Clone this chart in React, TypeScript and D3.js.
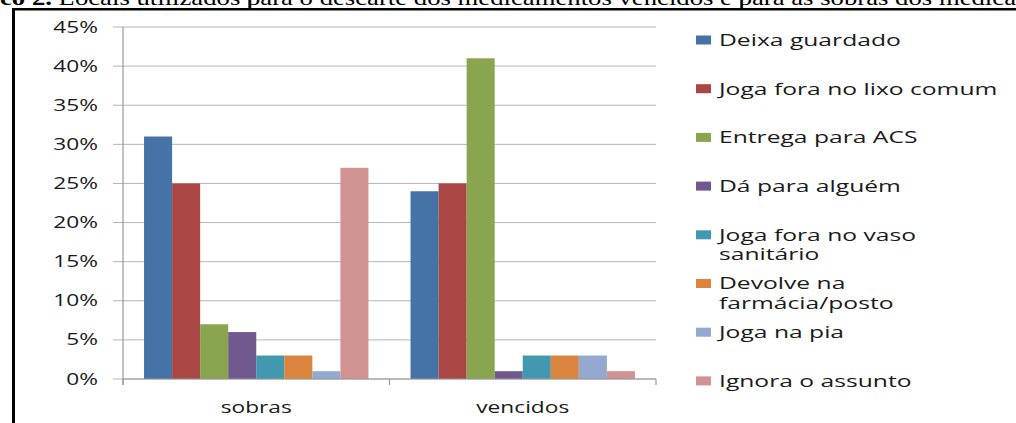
import React from "react";
import * as d3 from "d3";

const categories = ["sobras", "vencidos"];
const seriesNames = [
  "Deixa guardado",
  "Joga fora no lixo comum",
  "Entrega para ACS",
  "Dá para alguém",
  "Joga fora no vaso sanitário",
  "Devolve na farmácia/posto",
  "Joga na pia",
  "Ignora o assunto",
];
const legendLines = [
  ["Deixa guardado"],
  ["Joga fora no lixo comum"],
  ["Entrega para ACS"],
  ["Dá para alguém"],
  ["Joga fora no vaso", "sanitário"],
  ["Devolve na", "farmácia/posto"],
  ["Joga na pia"],
  ["Ignora o assunto"],
];
// values per series: [sobras, vencidos] in %
const deixaGuardado = [31, 24];
const jogaLixo = [25, 25];
const entregaACS = [7, 41];
const daAlguem = [6, 1];
const jogaVaso = [3, 3];
const devolveFarmacia = [3, 3];
const jogaPia = [1, 3];
const ignora = [27, 1];
const seriesValues = [deixaGuardado, jogaLixo, entregaACS, daAlguem, jogaVaso, devolveFarmacia, jogaPia, ignora];
const colors = ["#4572A7", "#AA4643", "#89A54E", "#71588F", "#4198AF", "#DB843D", "#93A9CF", "#D19392"];
const yTicks = [0, 5, 10, 15, 20, 25, 30, 35, 40, 45];
const captionBold = "co 2.";
const captionRest = " Locais utilizados para o descarte dos medicamentos vencidos e para as sobras dos medica";

const W = 1016;
const H = 423;
const plotLeft = 123;
const plotRight = 656;
const plotTop = 27;
const plotBottom = 379;
const SX = 1.42;
const FONT = "'Open Sans', sans-serif";
const TXT = "#1a1a1a";

export default function App() {
  const y = d3.scaleLinear().domain([0, 45]).range([plotBottom, plotTop]);
  const x0 = d3.scaleBand().domain(categories).range([plotLeft, plotRight]).paddingInner(0).paddingOuter(0);
  const inner = d3
    .scaleBand()
    .domain(seriesNames)
    .range([0, x0.bandwidth()])
    .paddingOuter(0.75)
    .paddingInner(0);
  const legendY = (i: number) => 40 + i * 48.7;

  return (
    <svg width={W} height={H} style={{ position: "absolute", left: 0, top: 0, background: "#fff" }}>
      {/* caption */}
      <text
        x={0}
        y={5}
        fontFamily="'Liberation Serif', 'Times New Roman', serif"
        fontSize={21}
        fill="#000"
        textLength={1016}
        lengthAdjust="spacingAndGlyphs"
      >
        <tspan fontWeight="bold">{captionBold}</tspan>
        <tspan>{captionRest}</tspan>
      </text>
      <line x1={249} x2={249} y1={0} y2={9} stroke="#000" strokeWidth={1.2} />
      <line x1={741} x2={741} y1={0} y2={9} stroke="#000" strokeWidth={1.2} />
      {/* frame */}
      <rect x={12} y={8} width={W - 12} height={2.5} fill="#000" />
      <rect x={12} y={8} width={3} height={H - 8} fill="#000" />

      {/* gridlines */}
      {yTicks.map((t) => (
        <line key={"g" + t} x1={plotLeft - 10} x2={plotRight} y1={y(t)} y2={y(t)} stroke="#B5B5B5" strokeWidth={1} />
      ))}
      {/* y labels */}
      {yTicks.map((t) => (
        <g key={"yl" + t} transform={`translate(98,${y(t)}) scale(${SX},1)`}>
          <text x={0} y={0} dy="0.35em" textAnchor="end" fontFamily={FONT} fontSize={16} fill={TXT}>
            {t + "%"}
          </text>
        </g>
      ))}

      {/* bars */}
      {seriesValues.map((vals, si) =>
        vals.map((v, ci) => (
          <rect
            key={`b${si}-${ci}`}
            x={(x0(categories[ci]) as number) + (inner(seriesNames[si]) as number)}
            y={y(v)}
            width={inner.bandwidth()}
            height={plotBottom - y(v)}
            fill={colors[si]}
          />
        ))
      )}

      {/* axes */}
      <line x1={plotLeft} x2={plotLeft} y1={plotTop} y2={plotBottom + 6} stroke="#9A9A9A" strokeWidth={1.2} />
      <line x1={plotLeft} x2={plotRight} y1={plotBottom} y2={plotBottom} stroke="#9A9A9A" strokeWidth={1.2} />
      {[...categories.map((c) => x0(c) as number), plotRight].map((xv, i) => (
        <line key={"xt" + i} x1={xv} x2={xv} y1={plotBottom} y2={plotBottom + 6} stroke="#9A9A9A" strokeWidth={1.2} />
      ))}
      {categories.map((c) => (
        <g key={"xl" + c} transform={`translate(${(x0(c) as number) + x0.bandwidth() / 2},407) scale(${SX},1)`}>
          <text x={0} y={0} dy="0.35em" textAnchor="middle" fontFamily={FONT} fontSize={16} fill={TXT}>
            {c}
          </text>
        </g>
      ))}

      {/* legend */}
      {legendLines.map((lines, i) => (
        <g key={"lg" + i}>
          <rect x={696} y={legendY(i) - 4.5} width={15} height={9} fill={colors[i]} />
          <g transform={`translate(719,${legendY(i)}) scale(1.45,1)`}>
            <text x={0} y={0} fontFamily={FONT} fontSize={17} fill={TXT}>
              {lines.map((ln, li) => (
                <tspan key={li} x={0} y={li * 19.5} dy="0.35em">
                  {ln}
                </tspan>
              ))}
            </text>
          </g>
        </g>
      ))}
    </svg>
  );
}
